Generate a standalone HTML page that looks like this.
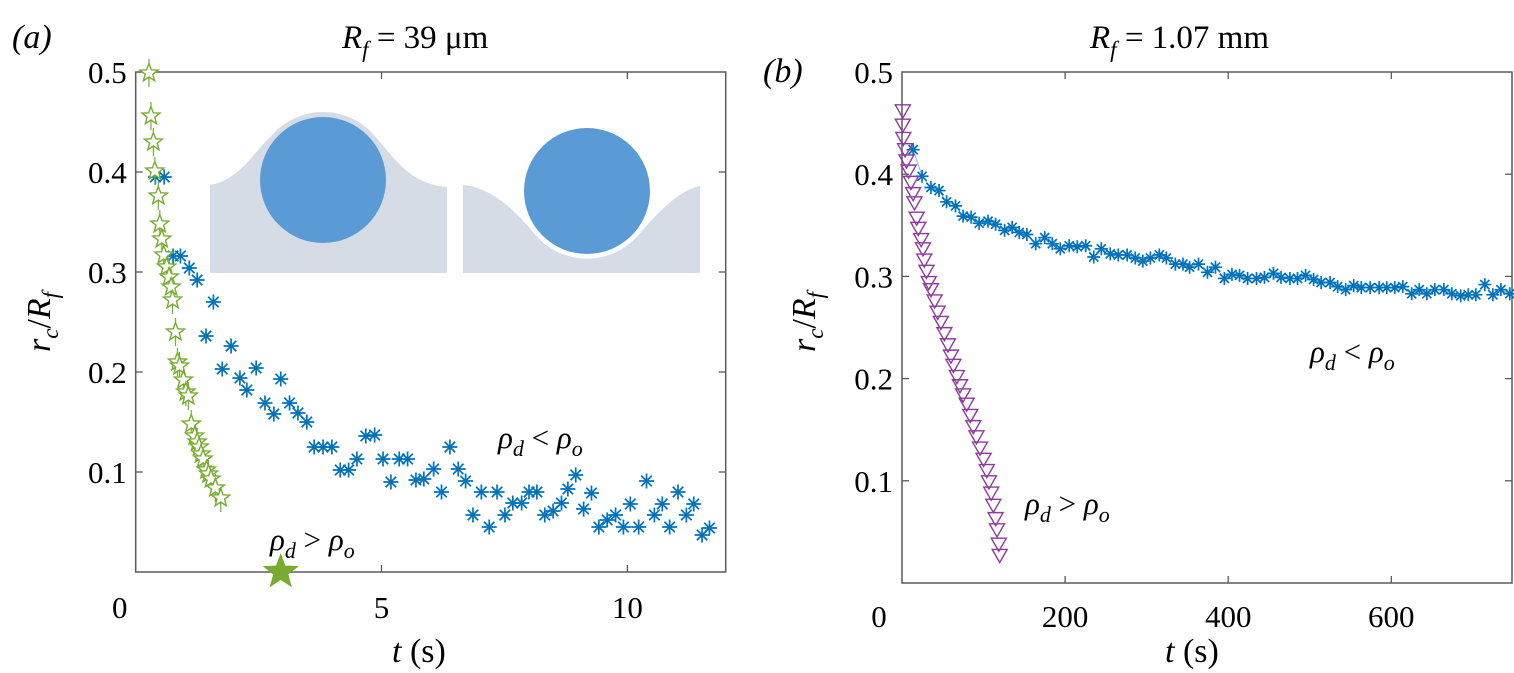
<!DOCTYPE html>
<html><head><meta charset="utf-8">
<style>
html,body{margin:0;padding:0;background:#fff;}
svg{display:block;font-family:"Liberation Serif",serif;}
</style></head>
<body>
<svg id="fig" width="1514" height="673" viewBox="0 0 1514 673" xmlns="http://www.w3.org/2000/svg">
  <g>
    <text x="12" y="48" font-size="34" font-style="italic">(<tspan>a</tspan>)</text>
    <text x="342" y="48" font-size="33"><tspan font-style="italic">R</tspan><tspan font-style="italic" font-size="23" dy="9">f</tspan><tspan dy="-9"> = 39 μm</tspan></text>
    <g>
      <path d="M210,273 L210,185 C240,180 255,150 269.5,138 A68 68 0 0 1 376.5,138 C392,155 410,185 447,187 L447,273 Z" fill="#d5dce6"/>
      <circle cx="323" cy="180" r="63" fill="#5b9bd5"/>
      <path d="M463,273 L463,185 C490,188 510,205 533,232 A68 68 0 0 0 641,232 C660,210 680,190 700,186 L700,273 Z" fill="#d5dce6"/>
      <circle cx="587" cy="191" r="63" fill="#5b9bd5"/>
    </g>
    <g id="a-plot"></g>
    <text x="498" y="448" font-size="31" font-style="italic">ρ<tspan font-size="22" dy="8">d</tspan><tspan dy="-8" font-style="normal"> &lt; </tspan>ρ<tspan font-size="22" dy="8">o</tspan></text>
    <text x="270" y="550" font-size="31" font-style="italic">ρ<tspan font-size="22" dy="8">d</tspan><tspan dy="-8" font-style="normal"> &gt; </tspan>ρ<tspan font-size="22" dy="8">o</tspan></text>
    <text x="392" y="662" font-size="34"><tspan font-style="italic">t</tspan> (s)</text>
    <text transform="translate(50,322) rotate(-90)" font-size="34" font-style="italic" text-anchor="middle">r<tspan font-size="23" dy="8">c</tspan><tspan dy="-8" font-style="normal">/</tspan>R<tspan font-size="23" dy="8">f</tspan></text>
  </g>
  <g>
    <text x="763" y="82" font-size="34" font-style="italic">(<tspan>b</tspan>)</text>
    <text x="1090" y="48" font-size="33"><tspan font-style="italic">R</tspan><tspan font-style="italic" font-size="23" dy="9">f</tspan><tspan dy="-9"> = 1.07 mm</tspan></text>
    <g id="b-plot"></g>
    <text x="1310" y="362" font-size="31" font-style="italic">ρ<tspan font-size="22" dy="8">d</tspan><tspan dy="-8" font-style="normal"> &lt; </tspan>ρ<tspan font-size="22" dy="8">o</tspan></text>
    <text x="1025" y="514" font-size="31" font-style="italic">ρ<tspan font-size="22" dy="8">d</tspan><tspan dy="-8" font-style="normal"> &gt; </tspan>ρ<tspan font-size="22" dy="8">o</tspan></text>
    <text x="1165" y="662" font-size="34"><tspan font-style="italic">t</tspan> (s)</text>
    <text transform="translate(815,322) rotate(-90)" font-size="34" font-style="italic" text-anchor="middle">r<tspan font-size="23" dy="8">c</tspan><tspan dy="-8" font-style="normal">/</tspan>R<tspan font-size="23" dy="8">f</tspan></text>
  </g>
</svg>
<script>
// Panel (a) data
const aLightT = [0.40,0.58,0.76,0.91,1.09,1.25,1.58,1.43,1.94,1.76,2.12,2.26,2.45,2.63,2.81,2.95,3.13,3.30,3.48,3.63,3.81,3.99,4.16,4.33,4.50,4.68,4.86,5.03,5.19,5.36,5.53,5.70,5.86,6.06,6.22,6.39,6.56,6.71,6.86,7.03,7.19,7.35,7.51,7.67,7.85,8.00,8.16,8.32,8.49,8.66,8.79,8.95,9.11,9.27,9.42,9.59,9.76,9.92,10.06,10.23,10.39,10.55,10.71,10.86,11.03,11.20,11.35,11.52,11.67];
const aLightR = [0.395,0.395,0.316,0.316,0.304,0.292,0.270,0.236,0.226,0.203,0.194,0.182,0.204,0.169,0.158,0.193,0.169,0.159,0.150,0.125,0.125,0.125,0.102,0.102,0.113,0.136,0.137,0.113,0.090,0.113,0.113,0.092,0.093,0.103,0.080,0.125,0.103,0.091,0.057,0.080,0.045,0.080,0.057,0.069,0.069,0.080,0.080,0.057,0.061,0.069,0.083,0.097,0.063,0.079,0.045,0.052,0.057,0.045,0.068,0.045,0.091,0.057,0.068,0.045,0.080,0.057,0.068,0.037,0.044];
const aHeavyT = [0.27,0.31,0.36,0.39,0.46,0.49,0.53,0.57,0.63,0.68,0.72,0.75,0.81,0.85,0.89,0.97,1.02,1.07,1.13,1.20,1.25,1.29,1.33,1.37,1.44,1.48,1.53,1.62,1.73];
const aHeavyR = [0.499,0.456,0.430,0.401,0.376,0.348,0.333,0.317,0.305,0.295,0.285,0.272,0.240,0.210,0.206,0.192,0.180,0.176,0.148,0.136,0.130,0.125,0.118,0.113,0.102,0.098,0.093,0.084,0.074];
const aXTicks = [0,5,10];
const aXTickLabels = ["0","5","10"];
const aYTicks = [0.1,0.2,0.3,0.4,0.5];
const aYTickLabels = ["0.1","0.2","0.3","0.4","0.5"];
const aMarkerT = [2.95];
const aMarkerR = [0];

// Panel (b) data
const bLightT = [13.7,24.6,35.5,45.4,54.7,65.6,74.9,84.8,94.6,105.5,114.8,125.8,135.1,143.8,153.1,164.0,175.0,184.3,194.1,205.0,214.9,225.3,235.1,244.4,255.4,265.2,276.1,286.0,295.3,304.6,315.5,324.2,335.2,344.5,352.7,363.6,374.6,384.4,395.3,404.6,413.9,423.8,434.7,444.5,455.5,464.8,475.7,485.0,494.9,504.7,514.0,524.9,534.2,544.1,553.9,563.2,574.1,585.1,594.4,604.2,614.1,625.0,634.3,643.6,653.4,664.4,674.2,685.1,694.4,703.7,714.7,724.5,734.4,745.3];
const bLightR = [0.424,0.398,0.387,0.384,0.373,0.369,0.359,0.358,0.352,0.354,0.351,0.345,0.348,0.343,0.341,0.332,0.338,0.332,0.327,0.330,0.329,0.330,0.319,0.327,0.322,0.321,0.321,0.318,0.315,0.318,0.321,0.318,0.312,0.312,0.309,0.312,0.304,0.309,0.298,0.302,0.301,0.298,0.298,0.299,0.303,0.299,0.298,0.298,0.301,0.297,0.294,0.294,0.290,0.287,0.291,0.289,0.289,0.289,0.289,0.289,0.290,0.283,0.287,0.283,0.287,0.287,0.283,0.281,0.282,0.282,0.292,0.282,0.287,0.283];
const bHeavyT = [1,1,1.6,3.8,5.5,8.2,10.9,13.7,15.3,18,20,23.5,25.7,27.3,30,32.8,35.5,40,43.7,47.6,52,56.3,60,63,67.3,71.1,74.9,79.3,83.7,87.5,91.3,95.7,100,104,106.6,109.4,112,114.8,116.5,118.7,119.8];
const bHeavyR = [0.462,0.448,0.435,0.424,0.413,0.403,0.392,0.381,0.372,0.357,0.347,0.336,0.327,0.316,0.305,0.294,0.287,0.276,0.265,0.255,0.244,0.233,0.222,0.213,0.202,0.193,0.184,0.175,0.164,0.153,0.143,0.132,0.121,0.110,0.099,0.088,0.076,0.063,0.052,0.038,0.027];
const bXTicks = [0,200,400,600];
const bXTickLabels = ["0","200","400","600"];
const bYTicks = [0.1,0.2,0.3,0.4,0.5];
const bYTickLabels = ["0.1","0.2","0.3","0.4","0.5"];

const NS = "http://www.w3.org/2000/svg";
function mk(tag, attrs, parent){
  const e = document.createElementNS(NS, tag);
  for (const k in attrs) e.setAttribute(k, attrs[k]);
  parent.appendChild(e);
  return e;
}
function scale(d0,d1,r0,r1){ return v => r0 + (v-d0)/(d1-d0)*(r1-r0); }

function asterisk(g, x, y, s, color){
  const p = `M${x-s},${y}H${x+s}M${x},${y-s}V${y+s}M${x-s*0.7},${y-s*0.7}L${x+s*0.7},${y+s*0.7}M${x-s*0.7},${y+s*0.7}L${x+s*0.7},${y-s*0.7}`;
  return mk("path", {d:p, stroke:color, "stroke-width":1.7, fill:"none"}, g);
}
function star(g, x, y, R, stroke, fill){
  let pts = [];
  for (let i=0;i<10;i++){
    const r = i%2===0 ? R : R*0.42;
    const a = -Math.PI/2 + i*Math.PI/5;
    pts.push((x+r*Math.cos(a)).toFixed(1)+","+(y+r*Math.sin(a)).toFixed(1));
  }
  return mk("polygon", {points:pts.join(" "), stroke:stroke, "stroke-width":1.4, fill:fill}, g);
}
function tri(g, x, y, s, color){
  const p = `${x-s},${y-s*0.8} ${x+s},${y-s*0.8} ${x},${y+s*0.95}`;
  return mk("polygon", {points:p, stroke:color, "stroke-width":1.4, fill:"none"}, g);
}

function axes(g, L, T, R, B, xs, ys, xt, xtl, yt, ytl, xLabY, xLabOff, prefix){
  const box = mk("rect", {x:L, y:T, width:R-L, height:B-T, fill:"none", stroke:"#5a5a5a", "stroke-width":1.5}, g);
  
  
  xt.forEach((v,i)=>{
    const x = xs(v);
    if (x > L+1 && x < R-1){
      const t1 = mk("line", {x1:x, y1:B, x2:x, y2:B-7, stroke:"#5a5a5a", "stroke-width":1.3}, g);
      
      
      const t2 = mk("line", {x1:x, y1:T, x2:x, y2:T+7, stroke:"#5a5a5a", "stroke-width":1.3}, g);
      
      
    }
    const lbl = mk("text", {x:x + (v===0 ? xLabOff : 0), y:xLabY, "font-size":31, "text-anchor":"middle"}, g);
    lbl.textContent = xtl[i];
    
    
  });
  yt.forEach((v,i)=>{
    const y = ys(v);
    if (y > T+1 && y < B-1){
      const t1 = mk("line", {x1:L, y1:y, x2:L+7, y2:y, stroke:"#5a5a5a", "stroke-width":1.3}, g);
      
      
      const t2 = mk("line", {x1:R, y1:y, x2:R-7, y2:y, stroke:"#5a5a5a", "stroke-width":1.3}, g);
      
      
    }
    const lbl = mk("text", {x:L-9, y:y+11, "font-size":31, "text-anchor":"end"}, g);
    lbl.textContent = ytl[i];
    
    
  });
}

// Panel a
(function(){
  const g = document.getElementById("a-plot");
  const L=135.7, T=72, R=725.7, B=572;
  const xs = scale(0,12,L,R), ys = scale(0,0.5,B,T);
  axes(g, L,T,R,B, xs, ys, aXTicks, aXTickLabels, aYTicks, aYTickLabels, 618, -16, "a");
  aLightT.forEach((t,i)=>{
    const m = asterisk(g, xs(t), ys(aLightR[i]), 7.5, "#0072bd");
    
    
  });
  aHeavyT.forEach((t,i)=>{
    const x = xs(t), y = ys(aHeavyR[i]);
    const eb = mk("line", {x1:x, y1:y-14, x2:x, y2:y+14, stroke:"#77ac30", "stroke-width":1.2}, g);
    
    
  });
  aHeavyT.forEach((t,i)=>{
    const m = star(g, xs(t), ys(aHeavyR[i]), 9.5, "#77ac30", "#ffffff");
    
    
  });
  aMarkerT.forEach((t,i)=>{
    const m = star(g, xs(t), ys(aMarkerR[i]), 17, "#77ac30", "#77ac30");
    
    
  });
})();

// Panel b
(function(){
  const g = document.getElementById("b-plot");
  const L=902, T=72, R=1512, B=583;
  const xs = scale(0,748,L,R), ys = scale(0,0.5,B,T);
  axes(g, L,T,R,B, xs, ys, bXTicks, bXTickLabels, bYTicks, bYTickLabels, 627, -23, "b");
  let d = "";
  bLightT.forEach((t,i)=>{ d += (i?"L":"M") + xs(t).toFixed(1) + "," + ys(bLightR[i]).toFixed(1); });
  const ln = mk("path", {d:d, stroke:"#0072bd", "stroke-width":0.8, fill:"none", opacity:0.6}, g);
  
  
  bLightT.forEach((t,i)=>{
    const m = asterisk(g, xs(t), ys(bLightR[i]), 6.5, "#0072bd");
    
    
  });
  bHeavyT.forEach((t,i)=>{
    const m = tri(g, xs(t), ys(bHeavyR[i]), 7.5, "#8e3a9e");
    
    
  });
})();
</script>
</body></html>
